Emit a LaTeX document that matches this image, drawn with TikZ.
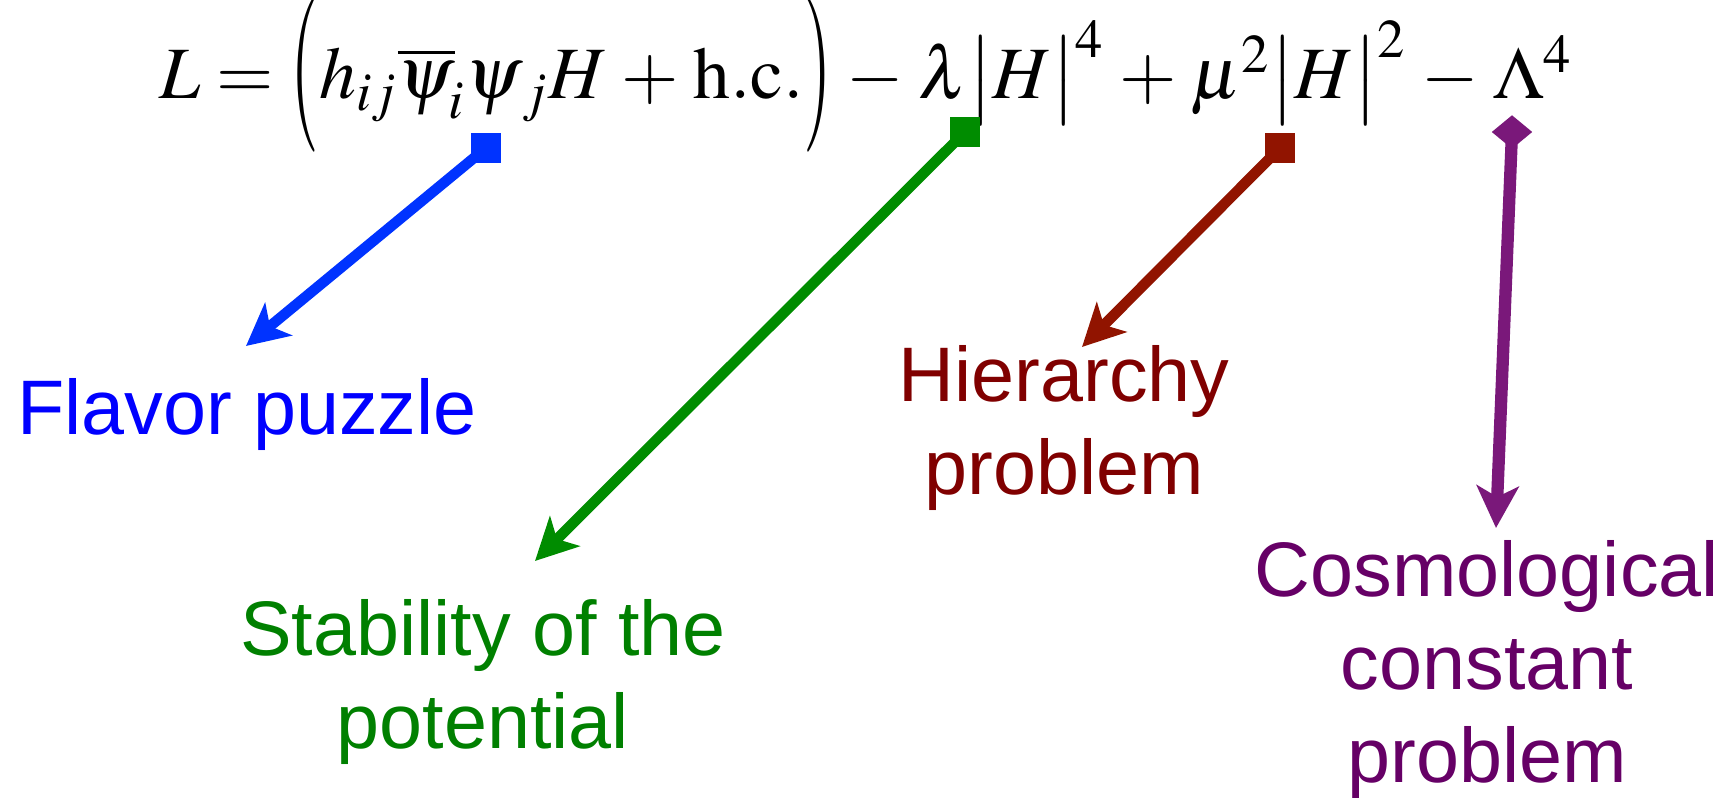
\documentclass[tikz,border=0pt]{standalone}
\usepackage{mathptmx}
\usepackage[no-math]{fontspec}
\newfontfamily\labelfont{Liberation Sans}
\usetikzlibrary{arrows.meta}
\usetikzlibrary{shapes.geometric}
\definecolor{fblue}{RGB}{0,51,255}
\definecolor{fbluet}{RGB}{0,0,255}
\definecolor{sgreen}{RGB}{0,140,0}
\definecolor{sgreent}{RGB}{0,128,0}
\definecolor{hred}{RGB}{145,20,0}
\definecolor{hredt}{RGB}{128,0,0}
\definecolor{cpurple}{RGB}{122,24,122}
\definecolor{cpurplet}{RGB}{102,0,102}
\newcommand{\tallL}{\mathopen{\raisebox{-4pt}{\scalebox{1}[2.1]{$($}}}}
\newcommand{\tallR}{\mathclose{\raisebox{-4pt}{\scalebox{1}[2.1]{$)$}}}}

\tikzset{
  pointer/.style={line width=3pt, -{Stealth[length=0.42cm, width=0.42cm, inset=0.11cm]}},
  tailsq/.style={rectangle, fill, inner sep=0pt, minimum size=0.3cm},
  problemtext/.style={font=\labelfont\fontsize{22}{26.5}\selectfont, align=center, inner sep=0pt}
}

\begin{document}
\begin{tikzpicture}
\useasboundingbox (0,0) rectangle (17.29,-7.98);

\node[anchor=base, inner sep=0pt, font=\fontsize{21}{25}\selectfont] (lag) at (8.66,-0.99)
  {$\medmuskip=3.5mu\relax L=\tallL h_{ij}\overline{\psi}_{\!i}\psi_{\,j}H+\mathrm{h.c.}\tallR-\lambda\bigl|H\bigr|^4+\mu^2\bigl|H\bigr|^2-\Lambda^4$};

% markers under the terms
\node[tailsq, fblue] (flavsq) at (4.86,-1.48) {};
\node[tailsq, sgreen] (stabsq) at (9.65,-1.32) {};
\node[tailsq, hred] (hiersq) at (12.80,-1.48) {};
\node[diamond, fill, cpurple, inner sep=0pt, minimum width=0.41cm, minimum height=0.34cm] (cosmdm) at (15.12,-1.32) {};

\coordinate (flavtip) at (2.46,-3.46);
\coordinate (stabtip) at (5.35,-5.61);
\coordinate (hiertip) at (10.82,-3.47);
\coordinate (cosmtip) at (14.96,-5.28);

\draw[pointer, fblue] (flavsq.center) -- (flavtip);
\draw[pointer, sgreen] (stabsq.center) -- (stabtip);
\draw[pointer, hred] (hiersq.center) -- (hiertip);
\draw[pointer, cpurple, line width=3.5pt] (cosmdm.center) -- (cosmtip);

% the problems (base = last line)
\node[problemtext, fbluet, anchor=base] (flav) at (2.47,-4.35) {Flavor puzzle};
\node[problemtext, sgreent, anchor=base] (stab) at (4.83,-7.49) {Stability of the\\potential};
\node[problemtext, hredt, anchor=base] (hier) at (10.64,-4.95) {Hierarchy\\problem};
\node[problemtext, cpurplet, anchor=base] (cosm) at (14.87,-7.83) {Cosmological\\constant\\problem};

\end{tikzpicture}
\end{document}
